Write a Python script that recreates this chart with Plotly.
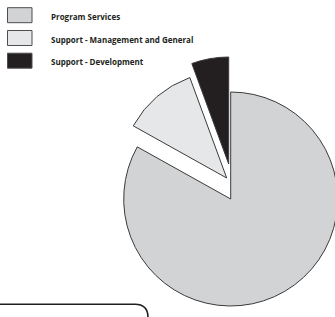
import plotly.graph_objects as go

# ---- data ----
categories = ["Program Services", "Support - Management and General", "Support - Development"]
values = [83.1, 11.3, 5.6]

# ---- styling / layout constants ----
W, H = 340, 317           # figure is a touch wider than the window so the pie is clipped at right
colors = ["#d1d3d4", "#e6e7e8", "#231f20"]
edge = "#3a3a3a"
R = 107.0                 # pie radius in px
CX, CY = 230.7, 199.0     # pie centre in px (from top-left)
offsets = [(0, 0), (-4, -21), (-2, -35)]   # exploded slice offsets (px)

fig = go.Figure()

for i, cat in enumerate(categories):
    dx, dy = offsets[i]
    cx, cy = CX + dx, CY + dy
    x0, x1 = max(0, (cx - R) / W), min(1, (cx + R) / W)
    y0, y1 = max(0, 1 - (cy + R) / H), min(1, 1 - (cy - R) / H)
    fig.add_trace(go.Pie(
        labels=categories,
        values=values,
        sort=False,
        direction="clockwise",
        rotation=0,
        textinfo="none",
        hoverinfo="label+percent",
        showlegend=False,
        domain=dict(x=[x0, x1], y=[y0, y1]),
        marker=dict(
            colors=[colors[j] if j == i else "rgba(0,0,0,0)" for j in range(len(categories))],
            line=dict(color=[edge if j == i else "rgba(0,0,0,0)" for j in range(len(categories))],
                      width=[1 if j == i else 0 for j in range(len(categories))]),
        ),
    ))

# ---- legend drawn as boxes + labels ----
shapes = []
annotations = []
row_y = [15.2, 38.0, 60.7]
for i, cat in enumerate(categories):
    yc = row_y[i]
    shapes.append(dict(
        type="rect", xref="paper", yref="paper",
        x0=7.5 / W, x1=32 / W,
        y0=1 - (yc + 7.5) / H, y1=1 - (yc - 7.5) / H,
        fillcolor=colors[i], line=dict(color="#4d4d4f", width=1),
    ))
    annotations.append(dict(
        x=49 / W, y=1 - (yc + 1) / H, xref="paper", yref="paper",
        xanchor="left", yanchor="middle", showarrow=False,
        text=cat, font=dict(family="Open Sans", size=8, color="#231f20", weight="bold"),
    ))

# partial rounded box at bottom-left
px = lambda v: v / W
py = lambda v: 1 - v / H
shapes.append(dict(
    type="path", xref="paper", yref="paper",
    path=(f"M {px(-2)},{py(304.2)} L {px(135)},{py(304.2)} "
          f"Q {px(148)},{py(304.2)} {px(148)},{py(317.5)} L {px(148)},{py(322)}"),
    line=dict(color="#231f20", width=1.6),
))

fig.update_layout(
    width=W, height=H,
    margin=dict(l=0, r=0, t=0, b=0),
    paper_bgcolor="white", plot_bgcolor="white",
    shapes=shapes, annotations=annotations,
)

fig.write_html(
    "out.html",
    config={"displayModeBar": False},
    post_script="document.documentElement.style.overflow='hidden';"
                "document.body.style.margin='0';document.body.style.overflow='hidden';",
)
